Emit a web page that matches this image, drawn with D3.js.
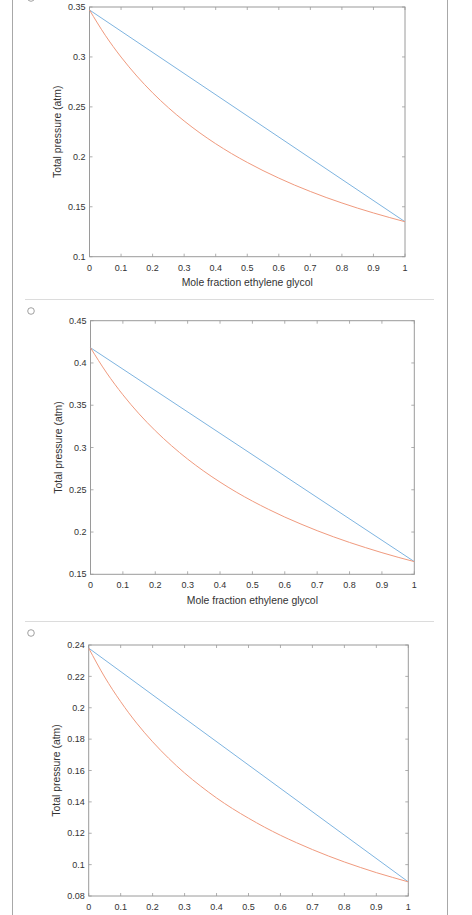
<!DOCTYPE html>
<html>
<head>
<meta charset="utf-8">
<script src="https://cdn.jsdelivr.net/npm/d3@7"></script>
<style>
  html, body { margin: 0; padding: 0; background: #fff; }
  svg { display: block; font-family: "Liberation Sans", Arial, Helvetica, sans-serif; }
</style>
</head>
<body>
<svg id="chart" width="472" height="915"></svg>
<script>
// mole fraction sample points used for the curved (vapour) lines
const xFrac = [0, 0.05, 0.1, 0.15, 0.2, 0.25, 0.3, 0.35, 0.4, 0.45, 0.5,
               0.55, 0.6, 0.65, 0.7, 0.75, 0.8, 0.85, 0.9, 0.95, 1];
const xEnds = [0, 1];
const xTicks = [0, 0.1, 0.2, 0.3, 0.4, 0.5, 0.6, 0.7, 0.8, 0.9, 1];
const xTickLabels = ["0", "0.1", "0.2", "0.3", "0.4", "0.5", "0.6", "0.7", "0.8", "0.9", "1"];

// panel 1
const p1Liquid = [0.347, 0.135];
const p1Vapor = [0.347, 0.3217, 0.2999, 0.2809, 0.2641, 0.2492, 0.2359, 0.2239, 0.2131, 0.2033, 0.1944,
                 0.1862, 0.1787, 0.1717, 0.1653, 0.1593, 0.1538, 0.1486, 0.1438, 0.1393, 0.135];
const p1YDomain = [0.1, 0.35];
const p1YTicks = [0.1, 0.15, 0.2, 0.25, 0.3, 0.35];

// panel 2
const p2Liquid = [0.418, 0.165];
const p2Vapor = [0.418, 0.3882, 0.3624, 0.3398, 0.3199, 0.3022, 0.2863, 0.2720, 0.2591, 0.2473, 0.2366,
                 0.2268, 0.2177, 0.2094, 0.2016, 0.1944, 0.1877, 0.1815, 0.1756, 0.1701, 0.165];
const p2YDomain = [0.15, 0.45];
const p2YTicks = [0.15, 0.2, 0.25, 0.3, 0.35, 0.4, 0.45];

// panel 3
const p3Liquid = [0.238, 0.089];
const p3Vapor = [0.238, 0.2196, 0.2039, 0.1902, 0.1783, 0.1678, 0.1584, 0.1501, 0.1425, 0.1357, 0.1296,
                 0.1239, 0.1187, 0.1140, 0.1096, 0.1055, 0.1017, 0.0982, 0.0949, 0.0919, 0.089];
const p3YDomain = [0.08, 0.24];
const p3YTicks = [0.08, 0.1, 0.12, 0.14, 0.16, 0.18, 0.2, 0.22, 0.24];

const xLabel = "Mole fraction ethylene glycol";
const yLabel = "Total pressure (atm)";

const svg = d3.select("#chart");

// page frame: side rules, separators and radio buttons
svg.append("rect").attr("width", 472).attr("height", 915).attr("fill", "#fff");
[12.5, 447.5].forEach(x => {
  svg.append("line").attr("x1", x).attr("x2", x).attr("y1", 0).attr("y2", 915)
    .attr("stroke", "#a8a8a8").attr("stroke-width", 1);
});
[299.5, 621.5].forEach(y => {
  svg.append("line").attr("x1", 25).attr("x2", 434).attr("y1", y).attr("y2", y)
    .attr("stroke", "#dcdcdc").attr("stroke-width", 1);
});
[-2, 311, 633].forEach(y => {
  svg.append("circle").attr("cx", 31).attr("cy", y).attr("r", 3.3)
    .attr("fill", "#fff").attr("stroke", "#888").attr("stroke-width", 0.8);
});

// the third panel's x title falls below the window, as in the reference
const panels = [
  { liquid: p1Liquid, vapor: p1Vapor, yDomain: p1YDomain, yTicks: p1YTicks,
    left: 89.5, right: 405, top: 7, bottom: 256.7, showXLabel: true },
  { liquid: p2Liquid, vapor: p2Vapor, yDomain: p2YDomain, yTicks: p2YTicks,
    left: 90.5, right: 414.3, top: 320.7, bottom: 574.3, showXLabel: true },
  { liquid: p3Liquid, vapor: p3Vapor, yDomain: p3YDomain, yTicks: p3YTicks,
    left: 88.7, right: 408.3, top: 645, bottom: 896, showXLabel: false }
];

const axisColor = "#9a9a9a";
const textColor = "#333";
const blue = "#7eb4e0";
const red = "#f09a7e";
const tickLen = 3;

panels.forEach(p => {
  const x = d3.scaleLinear().domain([0, 1]).range([p.left, p.right]);
  const y = d3.scaleLinear().domain(p.yDomain).range([p.bottom, p.top]);
  const g = svg.append("g");

  // box
  g.append("rect")
    .attr("x", p.left).attr("y", p.top)
    .attr("width", p.right - p.left).attr("height", p.bottom - p.top)
    .attr("fill", "#fff").attr("stroke", axisColor).attr("stroke-width", 1);

  // x ticks (bottom and top, pointing inward)
  xTicks.forEach((t, i) => {
    const xp = x(t);
    g.append("line").attr("x1", xp).attr("x2", xp)
      .attr("y1", p.bottom).attr("y2", p.bottom - tickLen)
      .attr("stroke", axisColor).attr("stroke-width", 0.8);
    g.append("line").attr("x1", xp).attr("x2", xp)
      .attr("y1", p.top).attr("y2", p.top + tickLen)
      .attr("stroke", axisColor).attr("stroke-width", 0.8);
    g.append("text")
      .attr("x", xp).attr("y", p.bottom + 11)
      .attr("dy", "0.35em")
      .attr("text-anchor", "middle")
      .attr("font-size", 9).attr("fill", textColor)
      .text(xTickLabels[i]);
  });

  // y ticks (left and right, pointing inward)
  p.yTicks.forEach(t => {
    const yp = y(t);
    g.append("line").attr("x1", p.left).attr("x2", p.left + tickLen)
      .attr("y1", yp).attr("y2", yp)
      .attr("stroke", axisColor).attr("stroke-width", 0.8);
    g.append("line").attr("x1", p.right).attr("x2", p.right - tickLen)
      .attr("y1", yp).attr("y2", yp)
      .attr("stroke", axisColor).attr("stroke-width", 0.8);
    g.append("text")
      .attr("x", p.left - 4).attr("y", yp)
      .attr("dy", "0.35em")
      .attr("text-anchor", "end")
      .attr("font-size", 9).attr("fill", textColor)
      .text(d3.format("~g")(t));
  });

  // axis titles
  if (p.showXLabel) {
    g.append("text")
      .attr("x", (p.left + p.right) / 2).attr("y", p.bottom + 26)
      .attr("dy", "0.35em")
      .attr("text-anchor", "middle")
      .attr("font-size", 10.4).attr("fill", textColor)
      .text(xLabel);
  }
  g.append("text")
    .attr("transform", `translate(${p.left - 32},${(p.top + p.bottom) / 2}) rotate(-90)`)
    .attr("dy", "0.35em")
    .attr("text-anchor", "middle")
    .attr("font-size", 10.4).attr("fill", textColor)
    .text(yLabel);

  // liquid line (straight) and vapour curve
  g.append("path")
    .datum(xEnds.map((v, i) => [v, p.liquid[i]]))
    .attr("fill", "none").attr("stroke", blue).attr("stroke-width", 1)
    .attr("d", d3.line().x(d => x(d[0])).y(d => y(d[1])));
  g.append("path")
    .datum(xFrac.map((v, i) => [v, p.vapor[i]]))
    .attr("fill", "none").attr("stroke", red).attr("stroke-width", 1)
    .attr("d", d3.line().curve(d3.curveMonotoneX).x(d => x(d[0])).y(d => y(d[1])));
});
</script>
</body>
</html>
